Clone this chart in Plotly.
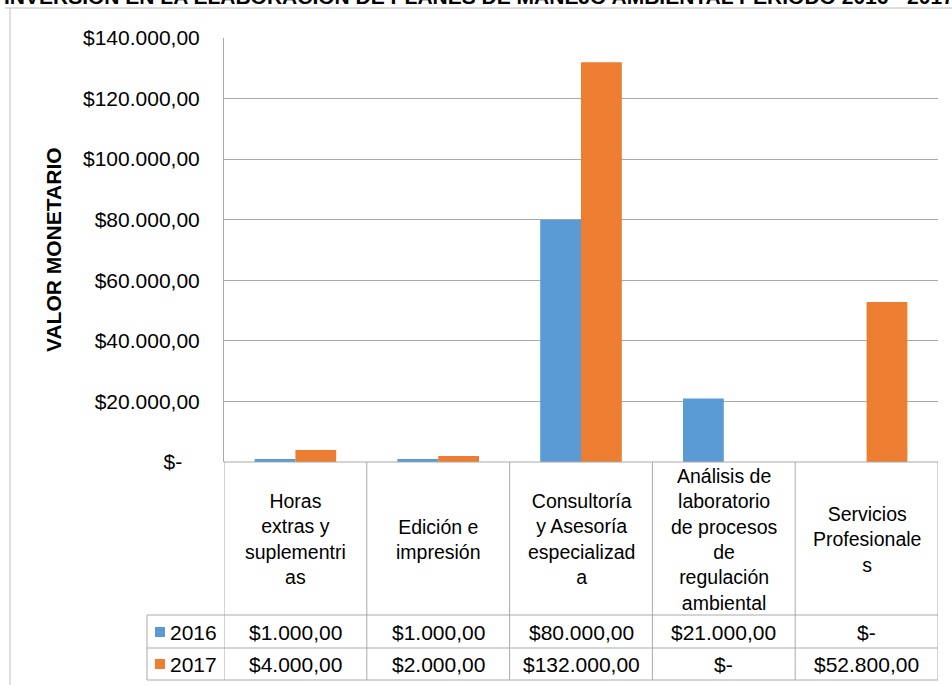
import plotly.graph_objects as go

# ---------------- data ----------------
categories = [
    "Horas extras y suplementrias",
    "Edición e impresión",
    "Consultoría y Asesoría especializada",
    "Análisis de laboratorio de procesos de regulación ambiental",
    "Servicios Profesionales",
]
category_labels = [
    "Horas<br>extras y<br>suplementri<br>as",
    "Edición e<br>impresión",
    "Consultoría<br>y Asesoría<br>especializad<br>a",
    "Análisis de<br>laboratorio<br>de procesos<br>de<br>regulación<br>ambiental",
    "Servicios<br>Profesionale<br>s",
]
series_names = ["2016", "2017"]
values_2016 = [1000, 1000, 80000, 21000, 0]
values_2017 = [4000, 2000, 132000, 0, 52800]
y_ticks = [0, 20000, 40000, 60000, 80000, 100000, 120000, 140000]
title_text = "INVERSIÓN EN LA ELABORACIÓN DE PLANES DE MANEJO AMBIENTAL PERIODO 2016 - 2017"
y_title = "VALOR MONETARIO"

colors = ["#5B9BD5", "#ED7D31"]
FONT = "Liberation Sans, Arial, sans-serif"
GRID = "#A9A9A9"
FS = 21
FS_CAT = 19.5
W, H = 952, 685
L, R, T, B = 224, 14, 38, 223


def money(v):
    if v == 0:
        return "$-"
    s = f"{v:,.2f}"  # 1,000.00
    s = s.replace(",", "X").replace(".", ",").replace("X", ".")
    return "$" + s


def px(p):
    return (p - L) / (W - L - R)


def py(p):
    return (H - B - p) / (H - T - B)


fig = go.Figure()
for name, vals, col in zip(series_names, [values_2016, values_2017], colors):
    fig.add_trace(go.Bar(x=categories, y=vals, name=name, marker_color=col,
                         marker_line_width=0, showlegend=False, hoverinfo="skip"))

tick_text = [money(v) if v else "$-\u00a0\u00a0\u00a0" for v in y_ticks]

fig.update_layout(
    width=W, height=H,
    margin=dict(l=L, r=R, t=T, b=B, pad=0),
    paper_bgcolor="white", plot_bgcolor="white",
    font=dict(family=FONT, size=FS, color="#000000"),
    barmode="group", bargap=0.4286, bargroupgap=0,
    xaxis=dict(type="category", range=[-0.5, len(categories) - 0.5],
               showticklabels=False, showgrid=False, zeroline=False,
               showline=False, ticks=""),
    yaxis=dict(range=[0, 140000], tickvals=y_ticks, ticktext=tick_text,
               showgrid=True, gridcolor=GRID, gridwidth=1,
               zeroline=False, showline=True, linecolor=GRID, linewidth=1,
               ticks="outside", ticklen=19, tickcolor="rgba(0,0,0,0)",
               tickfont=dict(size=FS, family=FONT)),
)

shapes = []
line = dict(color=GRID, width=1)
# outer chart border (left and top)
shapes.append(dict(type="line", xref="paper", yref="paper",
                   x0=px(10), x1=px(10), y0=py(8), y1=py(H + 5), line=dict(color="#BFBFBF", width=1)))
shapes.append(dict(type="line", xref="paper", yref="paper",
                   x0=px(5), x1=px(W + 5), y0=py(8), y1=py(8), line=dict(color="#BFBFBF", width=1)))
# table horizontal lines
shapes.append(dict(type="line", xref="paper", yref="paper", x0=0, x1=1, y0=0, y1=0, line=line))
for yy in [615, 648, 680]:
    shapes.append(dict(type="line", xref="paper", yref="paper",
                       x0=px(147), x1=1, y0=py(yy), y1=py(yy), line=line))
# table vertical lines
for i in range(len(categories) + 1):
    shapes.append(dict(type="line", xref="x", yref="paper",
                       x0=i - 0.5, x1=i - 0.5, y0=0, y1=py(680), line=line))
shapes.append(dict(type="line", xref="paper", yref="paper",
                   x0=px(147), x1=px(147), y0=py(615), y1=py(680), line=line))
# legend keys
for k, (yy, col) in enumerate(zip([627, 659], colors)):
    shapes.append(dict(type="rect", xref="paper", yref="paper",
                       x0=px(155), x1=px(165), y0=py(yy), y1=py(yy + 10),
                       fillcolor=col, line=dict(width=0)))

annotations = []
# title (partly cut off at top, as in the reference)
annotations.append(dict(text=f"<b>{title_text}</b>", xref="paper", yref="paper",
                        x=px(2), y=py(10), xanchor="left", yanchor="bottom",
                        showarrow=False, font=dict(size=FS, family=FONT)))
# y axis title
annotations.append(dict(text=f"<b>{y_title}</b>", xref="paper", yref="paper",
                        x=px(53), y=0.5, xanchor="center", yanchor="middle",
                        textangle=-90, showarrow=False, font=dict(size=FS, family=FONT)))
# category labels
for i, lab in enumerate(category_labels):
    annotations.append(dict(text=lab, xref="x", yref="paper", x=i, y=py(539),
                            xanchor="center", yanchor="middle", showarrow=False,
                            font=dict(size=FS_CAT, family=FONT)))
# series rows
for name, vals, yc in zip(series_names, [values_2016, values_2017], [632, 664]):
    annotations.append(dict(text=name, xref="paper", yref="paper", x=px(168), y=py(yc),
                            xanchor="left", yanchor="middle", showarrow=False,
                            font=dict(size=FS, family=FONT)))
    for i, v in enumerate(vals):
        annotations.append(dict(text=money(v), xref="x", yref="paper", x=i, y=py(yc),
                                xanchor="center", yanchor="middle", showarrow=False,
                                font=dict(size=FS, family=FONT)))

fig.update_layout(shapes=shapes, annotations=annotations)
fig.write_html("out.html", config={"displayModeBar": False},
               post_script="document.body.style.margin='0';document.body.style.padding='0';")
